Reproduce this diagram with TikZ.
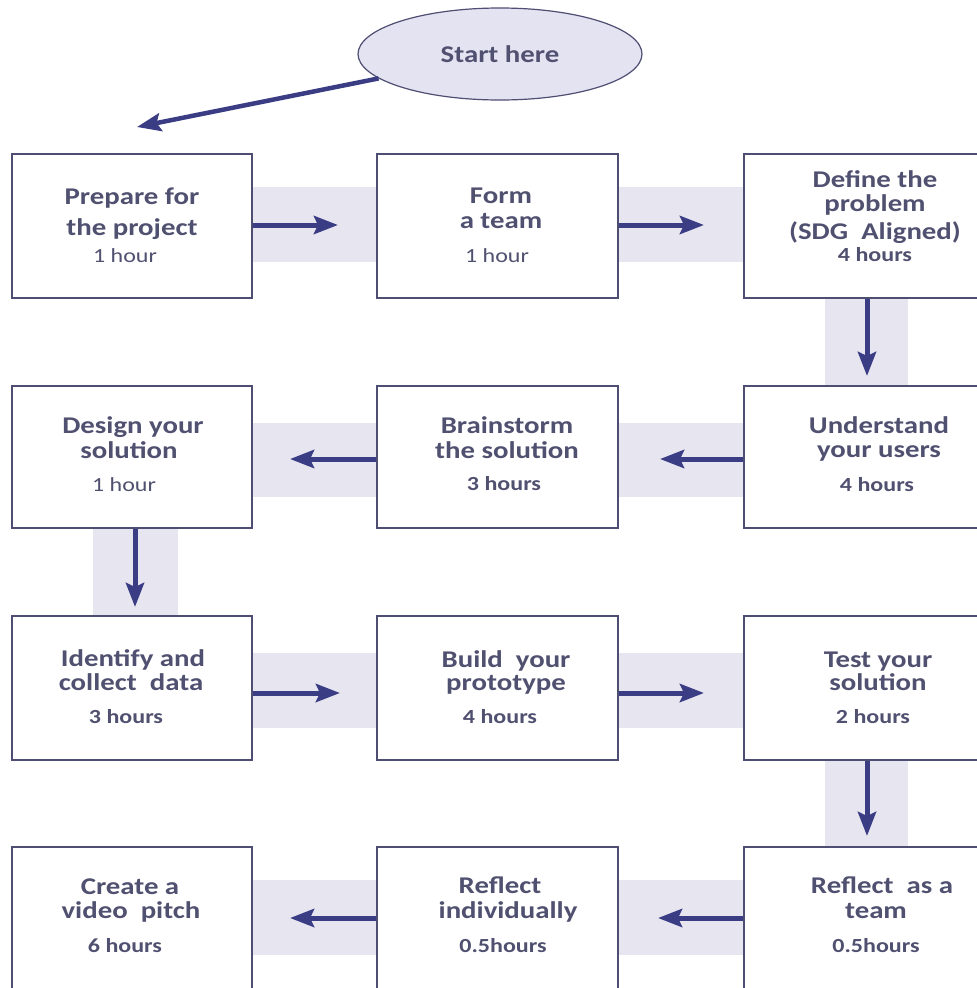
\documentclass[tikz,border=0pt]{standalone}
\usepackage{fontspec}
\usetikzlibrary{arrows.meta,shapes.geometric}
\newfontfamily\cfont{Carlito}
\newcommand\sx[1]{\scalebox{1.2}[1]{#1}}
\definecolor{textc}{RGB}{80,80,112}
\definecolor{borderc}{RGB}{78,78,114}
\definecolor{arrc}{RGB}{58,60,132}
\definecolor{bandc}{RGB}{231,229,240}
\definecolor{ellc}{RGB}{228,227,241}
\tikzset{
  stepbox/.style={draw=borderc, line width=1.8pt, fill=white, rectangle, inner sep=0pt},
  ttl/.style={anchor=base, inner sep=0pt, text=textc, font=\cfont\bfseries\fontsize{24}{25}\selectfont},
  hrb/.style={anchor=base, inner sep=0pt, text=textc, font=\cfont\bfseries\fontsize{20}{22}\selectfont},
  hrr/.style={anchor=base, inner sep=0pt, text=textc, font=\cfont\fontsize{20}{22}\selectfont},
  band/.style={fill=bandc, draw=none},
  arr/.style={draw=arrc, line width=5pt, -{Stealth[length=24pt,width=18pt,inset=4pt]}},
}
\begin{document}
\begin{tikzpicture}[x=1pt,y=-1pt]
\useasboundingbox (0,0) rectangle (977,988);
\clip (0,0) rectangle (977,988);
\fill[white] (0,0) rectangle (977,988);
% bands
\fill[band] (252,187) rectangle (377,262);
\fill[band] (618,187) rectangle (744,262);
\fill[band] (825,298) rectangle (908,386);
\fill[band] (252,423) rectangle (377,497);
\fill[band] (618,423) rectangle (744,497);
\fill[band] (93,528) rectangle (178,616);
\fill[band] (252,653) rectangle (377,728);
\fill[band] (618,653) rectangle (744,728);
\fill[band] (825,760) rectangle (908,847);
\fill[band] (252,880) rectangle (377,955);
\fill[band] (618,880) rectangle (744,955);
% boxes
\node[stepbox, minimum width=240, minimum height=144] (b1) at (132,226) {};
\node[stepbox, minimum width=241, minimum height=144] (b2) at (497.5,226) {};
\node[stepbox, minimum width=260, minimum height=144] (b3) at (874,226) {};
\node[stepbox, minimum width=260, minimum height=142] (b4) at (874,457) {};
\node[stepbox, minimum width=241, minimum height=142] (b5) at (497.5,457) {};
\node[stepbox, minimum width=240, minimum height=142] (b6) at (132,457) {};
\node[stepbox, minimum width=240, minimum height=144] (b7) at (132,688) {};
\node[stepbox, minimum width=241, minimum height=144] (b8) at (497.5,688) {};
\node[stepbox, minimum width=260, minimum height=144] (b9) at (874,688) {};
\node[stepbox, minimum width=260, minimum height=153] (b10) at (874,923.5) {};
\node[stepbox, minimum width=241, minimum height=153] (b11) at (497.5,923.5) {};
\node[stepbox, minimum width=240, minimum height=153] (b12) at (132,923.5) {};
% start
\node[ellipse, draw=borderc, line width=1.2pt, fill=ellc, minimum width=284, minimum height=92, inner sep=0pt,
  text=textc, font=\cfont\bfseries\fontsize{24}{25}\selectfont] (start) at (500,54) {\sx{Start here}};
\coordinate (sa) at (137,127);
\draw[arr, line width=4.5pt] (start) -- (sa);
% texts
\node[ttl] (t1a) at (132,204) {\sx{Prepare for}};
\node[ttl] (t1b) at (132,235) {\sx{the project}};
\node[hrr] (t1c) at (125,262) {\sx{1 hour}};
\node[ttl] (t2a) at (501,203) {\sx{Form}};
\node[ttl] (t2b) at (501,228) {\sx{a team}};
\node[hrr] (t2c) at (497,262) {\sx{1 hour}};
\node[ttl] (t3a) at (875,187) {\sx{Define the}};
\node[ttl] (t3b) at (875,211) {\sx{problem}};
\node[ttl] (t3c) at (875,239) {\sx{(SDG\ \ Aligned)}};
\node[hrb] (t3d) at (875,261) {\sx{4 hours}};
\node[ttl] (t4a) at (879,433) {\sx{Understand}};
\node[ttl] (t4b) at (879,457) {\sx{your users}};
\node[hrb] (t4c) at (877,491) {\sx{4 hours}};
\node[ttl] (t5a) at (507,433) {\sx{Brainstorm}};
\node[ttl] (t5b) at (507,458) {\sx{the solution}};
\node[hrb] (t5c) at (504,490) {\sx{3 hours}};
\node[ttl] (t6a) at (133,433) {\sx{Design your}};
\node[ttl] (t6b) at (129,458) {\sx{solution}};
\node[hrr] (t6c) at (124,491) {\sx{1 hour}};
\node[ttl] (t7a) at (133,666) {\sx{Identify and}};
\node[ttl] (t7b) at (131,690) {\sx{collect\ \ data}};
\node[hrb] (t7c) at (126,723) {\sx{3 hours}};
\node[ttl] (t8a) at (506,667) {\sx{Build\ \ your}};
\node[ttl] (t8b) at (506,690) {\sx{prototype}};
\node[hrb] (t8c) at (500,723) {\sx{4 hours}};
\node[ttl] (t9a) at (878,667) {\sx{Test your}};
\node[ttl] (t9b) at (878,690) {\sx{solution}};
\node[hrb] (t9c) at (873,723) {\sx{2 hours}};
\node[ttl] (t10a) at (882,893) {\sx{Reflect\ \ as a}};
\node[ttl] (t10b) at (876,918) {\sx{team}};
\node[hrb] (t10c) at (876,952) {\sx{0.5hours}};
\node[ttl] (t11a) at (500,893) {\sx{Reflect}};
\node[ttl] (t11b) at (508,918) {\sx{individually}};
\node[hrb] (t11c) at (503,952) {\sx{0.5hours}};
\node[ttl] (t12a) at (130,894) {\sx{Create a}};
\node[ttl] (t12b) at (131,918) {\sx{video\ \ pitch}};
\node[hrb] (t12c) at (125,952) {\sx{6 hours}};
% arrow ends
\coordinate (e1) at (338,225);
\coordinate (e2) at (704,225);
\coordinate (e3) at (867,376);
\coordinate (e4) at (660,459);
\coordinate (e5) at (290,459);
\coordinate (e6) at (135,607);
\coordinate (e7) at (340,693);
\coordinate (e8) at (704,693);
\coordinate (e9) at (867,836);
\coordinate (e10) at (658,918);
\coordinate (e11) at (290,918);
% arrows
\draw[arr] (b1.east |- e1) -- (e1);
\draw[arr] (b2.east |- e2) -- (e2);
\draw[arr] (b3.south -| e3) -- (e3);
\draw[arr] (b4.west |- e4) -- (e4);
\draw[arr] (b5.west |- e5) -- (e5);
\draw[arr] (b6.south -| e6) -- (e6);
\draw[arr] (b7.east |- e7) -- (e7);
\draw[arr] (b8.east |- e8) -- (e8);
\draw[arr] (b9.south -| e9) -- (e9);
\draw[arr] (b10.west |- e10) -- (e10);
\draw[arr] (b11.west |- e11) -- (e11);
\end{tikzpicture}
\end{document}
